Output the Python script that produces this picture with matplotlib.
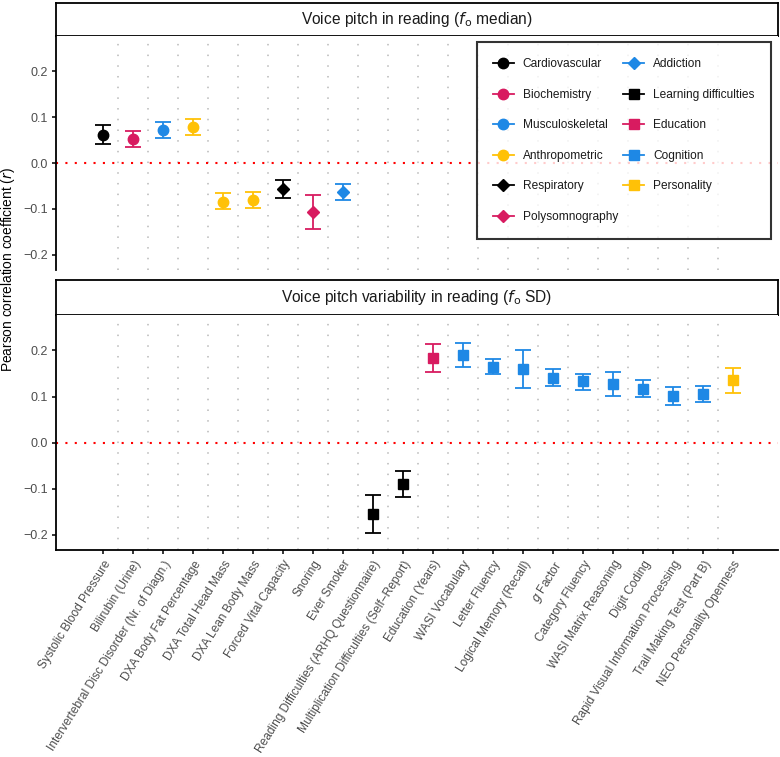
import numpy as np
import matplotlib
matplotlib.use("Agg")
import matplotlib.pyplot as plt
from matplotlib.lines import Line2D

plt.rcParams['font.family'] = ['Liberation Sans', 'DejaVu Sans']

# categories on the x axis (shared by both panels)
traits = ["Systolic Blood Pressure", "Bilirubin (Urine)",
          "Intervertebral Disc Disorder (Nr. of Diagn.)", "DXA Body Fat Percentage",
          "DXA Total Head Mass", "DXA Lean Body Mass", "Forced Vital Capacity",
          "Snoring", "Ever Smoker", "Reading Difficulties (ARHQ Questionnaire)",
          "Multiplication Difficulties (Self\u2212Report)", "Education (Years)",
          "WASI Vocabulary", "Letter Fluency", "Logical Memory (Recall)",
          "$g$ Factor", "Category Fluency", "WASI Matrix Reasoning", "Digit Coding",
          "Rapid Visual Information Processing", "Trail Making Test (Part B)",
          "NEO Personality Openness"]

# panel 1: voice pitch (f0 median)
p1_idx = [0, 1, 2, 3, 4, 5, 6, 7, 8]
p1_r = [0.062, 0.052, 0.072, 0.078, -0.084, -0.080, -0.057, -0.107, -0.062]
p1_lo = [0.041, 0.034, 0.054, 0.061, -0.100, -0.097, -0.077, -0.143, -0.080]
p1_hi = [0.084, 0.071, 0.090, 0.096, -0.066, -0.062, -0.037, -0.070, -0.046]
p1_cat = ["Cardiovascular", "Biochemistry", "Musculoskeletal", "Anthropometric",
          "Anthropometric", "Anthropometric", "Respiratory", "Polysomnography",
          "Addiction"]

# panel 2: voice pitch variability (f0 SD)
p2_idx = [9, 10, 11, 12, 13, 14, 15, 16, 17, 18, 19, 20, 21]
p2_r = [-0.154, -0.089, 0.184, 0.190, 0.165, 0.160, 0.141, 0.133, 0.127,
        0.117, 0.101, 0.106, 0.135]
p2_lo = [-0.196, -0.117, 0.153, 0.165, 0.148, 0.118, 0.124, 0.115, 0.101,
         0.099, 0.082, 0.088, 0.107]
p2_hi = [-0.113, -0.062, 0.215, 0.216, 0.182, 0.201, 0.159, 0.150, 0.153,
         0.135, 0.120, 0.122, 0.162]
p2_cat = ["Learning difficulties", "Learning difficulties", "Education",
          "Cognition", "Cognition", "Cognition", "Cognition", "Cognition",
          "Cognition", "Cognition", "Cognition", "Cognition", "Personality"]

categories = ["Cardiovascular", "Biochemistry", "Musculoskeletal", "Anthropometric",
              "Respiratory", "Polysomnography", "Addiction", "Learning difficulties",
              "Education", "Cognition", "Personality"]
cat_colors = ["#000000", "#D81B60", "#1E88E5", "#FFC107", "#000000", "#D81B60",
              "#1E88E5", "#000000", "#D81B60", "#1E88E5", "#FFC107"]
cat_markers = ["o", "o", "o", "o", "D", "D", "D", "s", "s", "s", "s"]
style = {c: (col, m) for c, col, m in zip(categories, cat_colors, cat_markers)}
msize = {"o": 7.5, "D": 6.5, "s": 6.5}

yticks = [-0.2, -0.1, 0.0, 0.1, 0.2]
ytick_labels = ["\u22120.2", "\u22120.1", "0.0", "0.1", "0.2"]

fig = plt.figure(figsize=(7.8, 7.57), dpi=100)
W, H = 780.0, 757.0


def px_axes(x0, y0, x1, y1):
    return fig.add_axes([x0 / W, 1 - y1 / H, (x1 - x0) / W, (y1 - y0) / H])


def strip(y0, y1, label):
    s = px_axes(56, y0, 778, y1)
    s.set_xticks([])
    s.set_yticks([])
    for sp in s.spines.values():
        sp.set_linewidth(1.3)
    s.text(0.5, 0.5, label, ha="center", va="center", fontsize=11.2,
           color="#1a1a1a", transform=s.transAxes)


def panel(ax, idx, r, lo, hi, cats):
    n = len(traits)
    ax.set_xlim(-1.57, n + 0.5)
    ax.set_ylim(-0.233, 0.277)
    for k in range(n - 1):
        ax.axvline(k + 0.5, color="#b8b8b8", lw=1.1, ls=(0, (1, 6)), zorder=0)
    ax.axhline(0, color="#ff0000", lw=1.5, ls=(0, (1, 3.5)), zorder=1)
    for i, v, l, h, c in zip(idx, r, lo, hi, cats):
        col, m = style[c]
        ax.errorbar(i, v, yerr=[[v - l], [h - v]], fmt=m, color=col,
                    ms=msize[m], capsize=5.5, elinewidth=1.3, capthick=1.3,
                    zorder=3)
    ax.set_yticks(yticks)
    ax.set_yticklabels(ytick_labels)
    ax.tick_params(axis="y", labelsize=9, labelcolor="#4d4d4d", length=3,
                   width=1.1, pad=3)
    ax.spines["top"].set_visible(False)
    ax.spines["right"].set_visible(False)
    ax.spines["left"].set_linewidth(1.3)
    ax.spines["bottom"].set_linewidth(1.3)


strip(3, 36, "Voice pitch in reading ($f_\\mathrm{o}$ median)")
ax1 = px_axes(56, 36, 778, 270)
panel(ax1, p1_idx, p1_r, p1_lo, p1_hi, p1_cat)
ax1.spines["bottom"].set_visible(False)
ax1.set_xticks([])

strip(280, 315, "Voice pitch variability in reading ($f_\\mathrm{o}$ SD)")
ax2 = px_axes(56, 315, 778, 550)
panel(ax2, p2_idx, p2_r, p2_lo, p2_hi, p2_cat)
ax2.set_xticks(range(len(traits)))
ax2.set_xticklabels(traits, rotation=58, ha="right", rotation_mode="anchor",
                    fontsize=8.6, color="#4d4d4d")
ax2.tick_params(axis="x", length=3, width=1.1, pad=3)

handles = []
for c in categories:
    col, m = style[c]
    handles.append(Line2D([0], [0], color=col, marker=m, ms=msize[m], lw=1.3))
leg = ax1.legend(handles, categories, ncol=2, loc="upper right",
                 bbox_to_anchor=(0.99, 0.974), borderaxespad=0, fontsize=8.6,
                 frameon=True, fancybox=False, edgecolor="black",
                 handlelength=1.75, labelspacing=1.55, columnspacing=0.45,
                 borderpad=1.35, handletextpad=0.75)
leg.get_frame().set_linewidth(1.5)
for t in leg.get_texts():
    t.set_color("#1a1a1a")

fig.text(8 / W, 1 - 270 / H, "Pearson correlation coefficient ($r$)",
         rotation=90, ha="center", va="center", fontsize=9.9)

fig.savefig("out.png", dpi=100)
